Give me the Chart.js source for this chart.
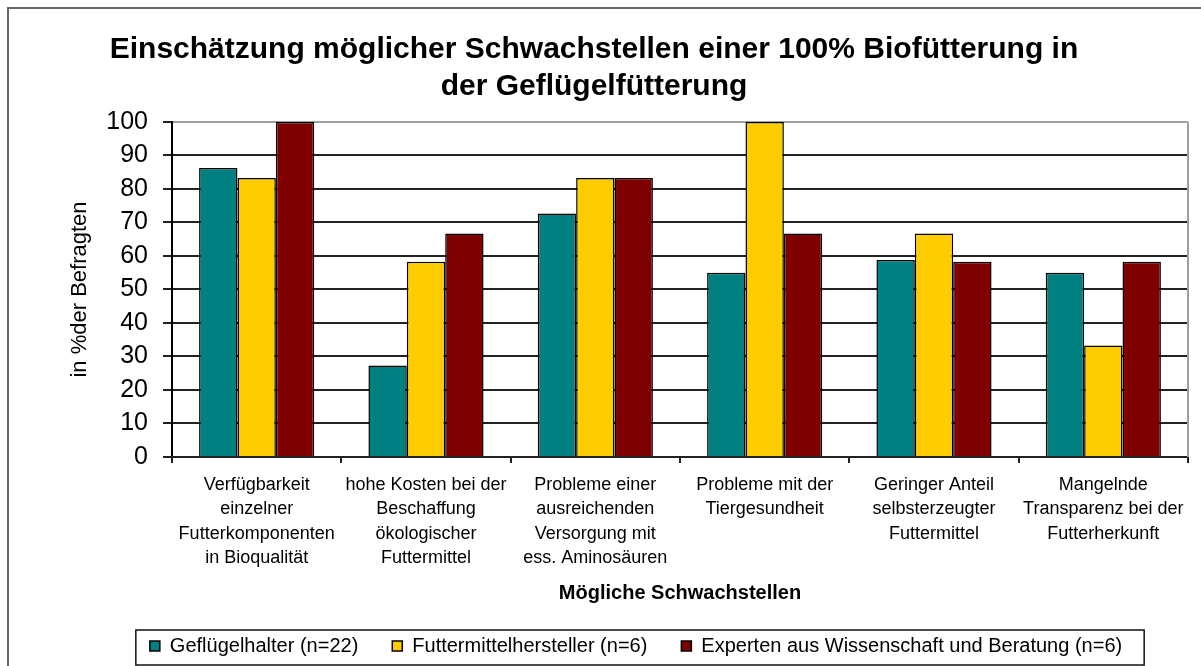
<!DOCTYPE html>
<html>
<head>
<meta charset="utf-8">
<script src="https://cdn.jsdelivr.net/npm/chart.js@4/dist/chart.umd.min.js"></script>
<style>
    body { margin: 0; background: #fff; overflow: hidden; }
    #frame {
        position: absolute; left: 7px; top: 7px; width: 1300px; height: 700px;
        border-left: 2px solid #666; border-top: 2px solid #666;
    }
    #wrap { position: absolute; left: 0; top: 0; width: 1201px; height: 666px; }
</style>
</head>
<body>
<div id="frame"></div>
<div id="wrap"><canvas id="myChart" width="1201" height="666"></canvas></div>
<script>
// data
const categories = [
    ["Verfügbarkeit", "einzelner", "Futterkomponenten", "in Bioqualität"],
    ["hohe Kosten bei der", "Beschaffung", "ökologischer", "Futtermittel"],
    ["Probleme einer", "ausreichenden", "Versorgung mit", "ess. Aminosäuren"],
    ["Probleme mit der", "Tiergesundheit"],
    ["Geringer Anteil", "selbsterzeugter", "Futtermittel"],
    ["Mangelnde", "Transparenz bei der", "Futterherkunft"]
];
const seriesNames = ["Geflügelhalter (n=22)", "Futtermittelhersteller (n=6)", "Experten aus Wissenschaft und Beratung (n=6)"];
const gefluegelhalter = [86.3, 27.3, 72.7, 55, 58.8, 55];
const futtermittelhersteller = [83.3, 58.3, 83.3, 100, 66.7, 33.3];
const experten = [100, 66.7, 83.3, 66.7, 58.3, 58.3];
const yTicks = [0, 10, 20, 30, 40, 50, 60, 70, 80, 90, 100];

const colors = ['#008080', '#FFCC00', '#800000'];

Chart.defaults.font.family = '"Liberation Sans", Arial, sans-serif';
Chart.defaults.color = '#000';

// grey border on the right side of the plot + box around the legend
const framePlugin = {
    id: 'frames',
    afterLayout(chart) {
        // legend sits a bit right of centre in the original
        chart.legend.left += 42;
        chart.legend.right += 42;
    },
    afterDraw(chart) {
        const c = chart.ctx;
        const a = chart.chartArea;
        c.save();
        c.strokeStyle = '#a0a0a0';
        c.lineWidth = 2;
        c.beginPath();
        c.moveTo(a.right, a.top);
        c.lineTo(a.right, a.bottom);
        c.stroke();

        const boxes = chart.legend.legendHitBoxes;
        if (boxes && boxes.length) {
            const left = boxes[0].left - 14;
            const last = boxes[boxes.length - 1];
            const right = last.left + last.width + 22;
            const mid = boxes[0].top + boxes[0].height / 2;
            c.strokeStyle = '#111';
            c.lineWidth = 1.5;
            c.strokeRect(left, mid - 16, right - left, 35);
        }
        c.restore();
    }
};

var ctx = document.getElementById("myChart");
var myChart = new Chart(ctx, {
    type: 'bar',
    data: {
        labels: categories,
        datasets: [gefluegelhalter, futtermittelhersteller, experten].map((d, i) => ({
            label: seriesNames[i],
            data: d,
            backgroundColor: colors[i],
            borderColor: '#000',
            borderWidth: 1.5,
            barPercentage: 1.0,
            categoryPercentage: 0.68
        }))
    },
    options: {
        responsive: false,
        animation: false,
        events: [],
        layout: { padding: { left: 0, right: 13, top: 0, bottom: 0 } },
        plugins: {
            title: {
                display: true,
                text: ["Einschätzung möglicher Schwachstellen einer 100% Biofütterung in", "der Geflügelfütterung"],
                font: { size: 30, weight: 'bold', lineHeight: 1.233 },
                color: '#000',
                padding: { top: 31, bottom: 17 }
            },
            legend: {
                position: 'bottom',
                labels: {
                    boxWidth: 10,
                    boxHeight: 10,
                    padding: 34,
                    font: { size: 20 }
                }
            },
            tooltip: { enabled: false }
        },
        scales: {
            y: {
                min: 0,
                max: 100,
                afterBuildTicks: function(scale) {
                    scale.ticks = yTicks.map(v => ({ value: v }));
                },
                afterFit: function(scale) { scale.width = 172; },
                border: { display: true, color: '#000', width: 2 },
                grid: {
                    color: function(c) { return c.tick && c.tick.value === 100 ? '#a0a0a0' : '#222'; },
                    lineWidth: 2,
                    drawTicks: true,
                    tickLength: 9,
                    tickColor: '#222'
                },
                ticks: {
                    padding: 15,
                    font: { size: 25 },
                    color: '#000'
                },
                title: {
                    display: true,
                    text: "in %der Befragten",
                    font: { size: 22 },
                    color: '#000',
                    padding: { top: 67, bottom: 0 }
                }
            },
            x: {
                afterFit: function(scale) { scale.height = 145; },
                border: { display: true, color: '#222', width: 2 },
                grid: {
                    offset: true,
                    drawOnChartArea: false,
                    drawTicks: true,
                    tickLength: 6,
                    tickColor: '#222',
                    lineWidth: 2
                },
                ticks: {
                    maxRotation: 0,
                    minRotation: 0,
                    autoSkip: false,
                    padding: 10,
                    font: { size: 18, lineHeight: 1.35 },
                    color: '#000'
                },
                title: {
                    display: true,
                    text: "Mögliche Schwachstellen",
                    font: { size: 20, weight: 'bold' },
                    color: '#000',
                    padding: { top: 0, bottom: -3 }
                }
            }
        }
    },
    plugins: [framePlugin]
});
</script>
</body>
</html>
